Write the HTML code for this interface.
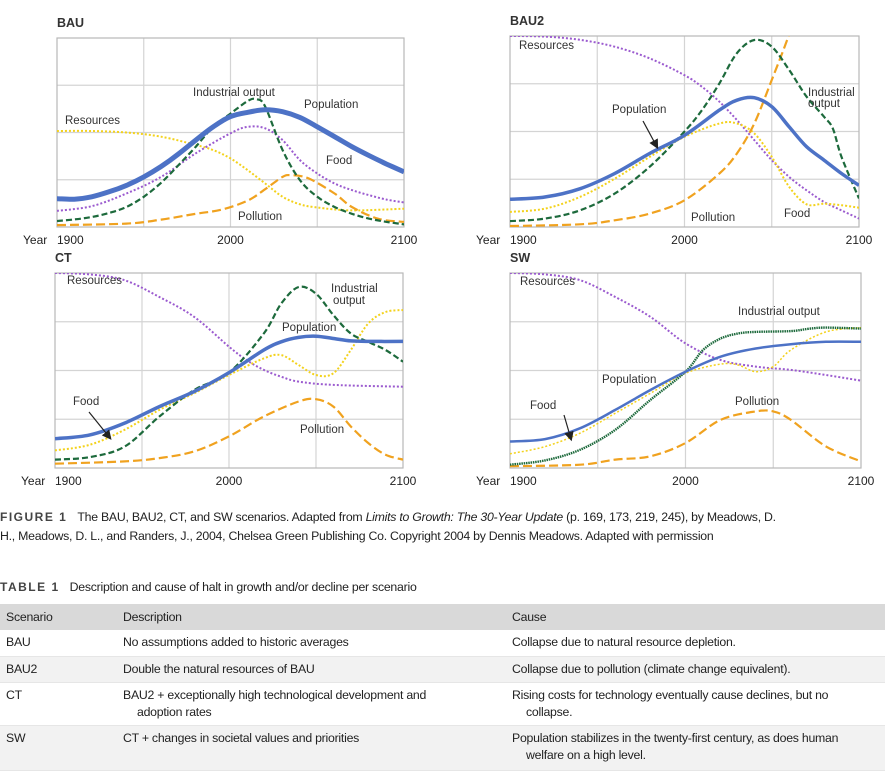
<!DOCTYPE html>
<html><head><meta charset="utf-8"><style>
body{margin:0;background:#fff;width:887px;height:773px;overflow:hidden;position:relative;font-family:"Liberation Sans",sans-serif;color:#222}
#charts{position:absolute;left:0;top:0}
.cap{position:absolute;left:0;font-size:12.3px;letter-spacing:-0.25px;line-height:19px;white-space:nowrap}
.cap b{letter-spacing:1.5px;font-size:12px;margin-right:10px;color:#444}
table{position:absolute;left:0;top:604px;width:885px;border-collapse:collapse;font-size:12.3px;letter-spacing:-0.25px}
td,th{text-align:left;vertical-align:top;padding:4px 6px 0 6px;line-height:17px;font-weight:normal;box-sizing:border-box}
th{background:#d9d9d9;height:26px;padding-top:5px}
tr.g td{background:#f2f2f2}
tr td{border-bottom:1px solid #e6e6e6}
.ind{padding-left:14px}
</style></head><body>
<svg id="charts" width="887" height="495" font-family="Liberation Sans, sans-serif"></svg>
<div class="cap" style="top:508px"><b>FIGURE 1</b>The BAU, BAU2, CT, and SW scenarios. Adapted from <i>Limits to Growth: The 30-Year Update</i> (p. 169, 173, 219, 245), by Meadows, D.<br>H., Meadows, D. L., and Randers, J., 2004, Chelsea Green Publishing Co. Copyright 2004 by Dennis Meadows. Adapted with permission</div>
<div class="cap" style="top:578px"><b>TABLE 1</b>Description and cause of halt in growth and/or decline per scenario</div>
<table>
<tr><th style="width:117px">Scenario</th><th style="width:389px">Description</th><th>Cause</th></tr>
<tr style="height:26px"><td>BAU</td><td>No assumptions added to historic averages</td><td>Collapse due to natural resource depletion.</td></tr>
<tr style="height:26px" class="g"><td>BAU2</td><td>Double the natural resources of BAU</td><td>Collapse due to pollution (climate change equivalent).</td></tr>
<tr style="height:43px"><td>CT</td><td>BAU2 + exceptionally high technological development and<br><span class="ind">adoption rates</span></td><td>Rising costs for technology eventually cause declines, but no<br><span class="ind">collapse.</span></td></tr>
<tr style="height:45px" class="g"><td>SW</td><td>CT + changes in societal values and priorities</td><td>Population stabilizes in the twenty-first century, as does human<br><span class="ind">welfare on a high level.</span></td></tr>
</table>
<script>
// ---- data (normalized 0..1 of plot height) ----
const bauPopYears=[1900,1910,1920,1930,1940,1950,1960,1970,1980,1990,2000,2010,2020,2030,2040,2050,2060,2070,2080,2090,2100];
const bauPopVals=[.15,.147,.16,.186,.22,.265,.32,.386,.46,.53,.584,.607,.62,.61,.58,.53,.478,.425,.377,.333,.292];
const bauIndYears=[1900,1910,1920,1930,1940,1950,1960,1970,1980,1990,2000,2010,2015,2020,2030,2040,2050,2060,2070,2080,2090,2100];
const bauIndVals=[.032,.04,.053,.074,.106,.16,.234,.327,.425,.53,.6,.667,.676,.637,.407,.248,.16,.106,.07,.044,.027,.014];
const bauFoodYears=[1900,1920,1940,1960,1980,2000,2010,2020,2030,2040,2050,2060,2070,2080,2090,2100];
const bauFoodVals=[.085,.11,.177,.265,.39,.496,.53,.522,.46,.354,.283,.23,.195,.168,.145,.13];
const bauResYears=[1900,1920,1940,1960,1980,1990,2000,2010,2020,2030,2040,2050,2070,2100];
const bauResVals=[.508,.508,.5,.478,.434,.407,.363,.3,.23,.16,.12,.103,.088,.097];
const bauPolYears=[1900,1940,1960,1980,1995,2010,2020,2030,2035,2045,2060,2070,2085,2100];
const bauPolVals=[.01,.018,.039,.07,.092,.14,.2,.265,.274,.257,.177,.106,.044,.027];

const bau2ResYears=[1900,1920,1940,1960,1980,2000,2010,2020,2030,2040,2050,2060,2070,2080,2090,2100];
const bau2ResVals=[1,.997,.98,.944,.883,.795,.734,.656,.56,.455,.35,.262,.192,.131,.087,.044];
const bau2PopYears=[1900,1920,1940,1960,1980,2000,2020,2030,2040,2050,2060,2070,2080,2090,2100];
const bau2PopVals=[.145,.157,.2,.28,.385,.48,.612,.664,.677,.63,.524,.42,.35,.28,.218];
const bau2IndYears=[1900,1920,1940,1960,1980,2000,2010,2020,2030,2040,2050,2060,2070,2080,2085,2090,2100];
const bau2IndVals=[.031,.044,.087,.175,.315,.5,.612,.752,.91,.979,.944,.822,.682,.577,.516,.367,.149];
const bau2FoodYears=[1900,1920,1940,1960,1980,2000,2020,2030,2040,2050,2060,2070,2080,2090,2100];
const bau2FoodVals=[.079,.096,.157,.253,.367,.472,.542,.542,.49,.367,.21,.119,.122,.114,.101];
const bau2PolYears=[1900,1940,1960,1980,2000,2020,2030,2040,2050,2060,2066];
const bau2PolVals=[.005,.014,.035,.07,.14,.28,.385,.542,.77,1.01,1.2];

const ctResYears=[1900,1920,1940,1960,1980,2000,2010,2020,2030,2040,2060,2100];
const ctResVals=[1,.993,.963,.877,.775,.622,.554,.503,.468,.443,.426,.417];
const ctPopYears=[1900,1920,1940,1960,1980,2000,2020,2030,2040,2050,2060,2070,2080,2100];
const ctPopVals=[.15,.17,.23,.315,.392,.489,.605,.647,.67,.676,.664,.652,.649,.649];
const ctIndYears=[1900,1920,1940,1960,1980,2000,2020,2030,2040,2050,2060,2070,2080,2090,2100];
const ctIndVals=[.043,.056,.11,.264,.4,.489,.69,.843,.928,.894,.784,.69,.647,.605,.545];
const ctFoodYears=[1900,1920,1940,1960,1980,2000,2020,2030,2040,2050,2060,2070,2080,2090,2100];
const ctFoodVals=[.09,.119,.196,.298,.383,.477,.562,.579,.528,.477,.486,.605,.741,.8,.81];
const ctPolYears=[1900,1940,1960,1980,2000,2020,2040,2050,2060,2070,2080,2090,2100];
const ctPolVals=[.022,.034,.051,.085,.162,.264,.341,.353,.315,.213,.128,.068,.043];

const swResYears=[1900,1920,1940,1960,1980,2000,2020,2040,2060,2080,2100];
const swResVals=[1,.993,.963,.877,.775,.639,.554,.52,.503,.477,.448];
const swPopYears=[1900,1920,1940,1960,1980,2000,2020,2040,2060,2080,2100];
const swPopVals=[.136,.148,.204,.298,.4,.494,.571,.613,.635,.647,.647];
const swIndYears=[1900,1920,1940,1960,1980,2000,2010,2020,2030,2040,2060,2070,2080,2100];
const swIndVals=[.017,.039,.094,.196,.349,.494,.605,.664,.69,.698,.702,.714,.72,.715];
const swFoodYears=[1900,1920,1940,1960,1980,2000,2020,2030,2040,2050,2060,2080,2100];
const swFoodVals=[.073,.11,.179,.281,.383,.486,.533,.528,.494,.52,.605,.698,.72];
const swPolYears=[1900,1940,1960,1980,2000,2020,2040,2050,2060,2080,2100];
const swPolVals=[.009,.017,.043,.06,.128,.247,.29,.29,.247,.111,.034];

const tickYears=[1900,2000,2100];

const svg=document.getElementById('charts');
const NS='http://www.w3.org/2000/svg';
function mk(tag,attrs,parent){const e=document.createElementNS(NS,tag);for(const k in attrs)e.setAttribute(k,attrs[k]);(parent||svg).appendChild(e);return e;}
function smooth(p){let d='M'+p[0][0].toFixed(1)+','+p[0][1].toFixed(1);
 for(let i=0;i<p.length-1;i++){const a=p[i-1]||p[i],b=p[i],c=p[i+1],e=p[i+2]||c;
  const c1=[b[0]+(c[0]-a[0])/6,b[1]+(c[1]-a[1])/6],c2=[c[0]-(e[0]-b[0])/6,c[1]-(e[1]-b[1])/6];
  d+=' C'+c1.map(v=>v.toFixed(1))+' '+c2.map(v=>v.toFixed(1))+' '+c[0].toFixed(1)+','+c[1].toFixed(1);}
 return d;}
const C={pop:'#4d72c6',ind:'#1d6a3c',food:'#f3d21c',res:'#9b5bcf',pol:'#f0a21f'};

const panels=[
 {id:'bau',title:'BAU',x0:57,x1:404,y0:38,y1:227,popW:5,
  series:[['res',bauResYears,bauResVals,'food'],['pol',bauPolYears,bauPolVals,'pol'],['food',bauFoodYears,bauFoodVals,'res'],['ind',bauIndYears,bauIndVals,'ind'],['pop',bauPopYears,bauPopVals,'pop']],
  labels:[['Industrial output',193,96],['Population',304,108],['Resources',65,124],['Food',326,164],['Pollution',238,220]]},
 {id:'bau2',title:'BAU2',x0:510,x1:859,y0:36,y1:227,popW:3.5,
  series:[['res',bau2ResYears,bau2ResVals,'res'],['food',bau2FoodYears,bau2FoodVals,'food'],['pol',bau2PolYears,bau2PolVals,'pol'],['ind',bau2IndYears,bau2IndVals,'ind'],['pop',bau2PopYears,bau2PopVals,'pop']],
  labels:[['Resources',519,49],['Industrial',808,96],['output',808,107],['Population',612,113],['Pollution',691,221],['Food',784,217]],
  arrow:[643,121,657,147]},
 {id:'ct',title:'CT',x0:55,x1:403,y0:273,y1:468,popW:3.5,
  series:[['res',ctResYears,ctResVals,'res'],['pol',ctPolYears,ctPolVals,'pol'],['food',ctFoodYears,ctFoodVals,'food'],['ind',ctIndYears,ctIndVals,'ind'],['pop',ctPopYears,ctPopVals,'pop']],
  labels:[['Resources',67,284],['Industrial',331,292],['output',333,304],['Population',282,331],['Food',73,405],['Pollution',300,433]],
  arrow:[89,412,110,438]},
 {id:'sw',title:'SW',x0:510,x1:861,y0:273,y1:468,popW:2.5,
  series:[['res',swResYears,swResVals,'res'],['pol',swPolYears,swPolVals,'pol'],['food',swFoodYears,swFoodVals,'food'],['ind',swIndYears,swIndVals,'ind'],['pop',swPopYears,swPopVals,'pop']],
  labels:[['Resources',520,285],['Industrial output',738,315],['Population',602,383],['Food',530,409],['Pollution',735,405]],
  arrow:[564,415,571,439]}
];

mk('defs',{}).innerHTML='<marker id="ah" markerWidth="8" markerHeight="8" refX="6" refY="4" orient="auto"><path d="M0,0 L8,4 L0,8 z" fill="#222"/></marker>';

panels.forEach(P=>{
 const g=mk('g',{});
 
 
 const sx=y=>P.x0+(y-1900)/200*(P.x1-P.x0);
 const sy=v=>P.y1-v*(P.y1-P.y0);
 const cp=mk('clipPath',{id:'cl-'+P.id},g);mk('rect',{x:P.x0,y:P.y0,width:P.x1-P.x0,height:P.y1-P.y0},cp);
 const t=mk('text',{x:P.x0,y:P.y0-11,'font-size':12.5,'font-weight':'bold',fill:'#333'},g);t.textContent=P.title;
 
 
 [1950,2000,2050].forEach(yr=>mk('line',{x1:sx(yr),x2:sx(yr),y1:P.y0,y2:P.y1,stroke:'#d4d4d4','stroke-width':1.2},g));
 [0.25,0.5,0.75].forEach(v=>mk('line',{x1:P.x0,x2:P.x1,y1:sy(v),y2:sy(v),stroke:'#d4d4d4','stroke-width':1.2},g));
 mk('rect',{x:P.x0,y:P.y0,width:P.x1-P.x0,height:P.y1-P.y0,fill:'none',stroke:'#b8b8b8','stroke-width':1.2},g);
 const sg=mk('g',{'clip-path':'url(#cl-'+P.id+')'},g);
 P.series.forEach(([key,yrs,vals,col])=>{
  const pts=yrs.map((y,i)=>[sx(y),sy(vals[i])]);
  const st={stroke:C[col],fill:'none','stroke-linecap':'butt'};
  if(key==='pop'){st['stroke-width']=P.popW;}
  else if(key==='ind'){st['stroke-width']=2.2;if(P.id==='sw'){st['stroke-width']=2.4;st['stroke-dasharray']='1.5,0.8';}else st['stroke-dasharray']='6,3';}
  else if(key==='pol'){st['stroke-width']=2.2;st['stroke-dasharray']='9,4';}
  else {st['stroke-width']=(P.id==='sw'&&key==='food')?1.5:2;st['stroke-dasharray']='2,2';}
  st.d=smooth(pts);
  const p=mk('path',st,sg);
  
  
 });
 P.labels.forEach(([s,x,y])=>{const l=mk('text',{x:x,y:y,'font-size':11.5,fill:'#333'},g);l.textContent=s;
  
  });
 if(P.arrow){const a=P.arrow;mk('line',{x1:a[0],y1:a[1],x2:a[2],y2:a[3],stroke:'#222','stroke-width':1.2,'marker-end':'url(#ah)'},g);}
 const yl=mk('text',{x:P.x0-34,y:P.y1+17,'font-size':12,fill:'#222'},g);yl.textContent='Year';
 
 
 tickYears.forEach((yr,i)=>{const tx=mk('text',{x:sx(yr),y:P.y1+17,'font-size':12,fill:'#222','text-anchor':i===0?'start':'middle'},g);
  tx.textContent=yr;
  
  });
});
</script>
</body></html>
